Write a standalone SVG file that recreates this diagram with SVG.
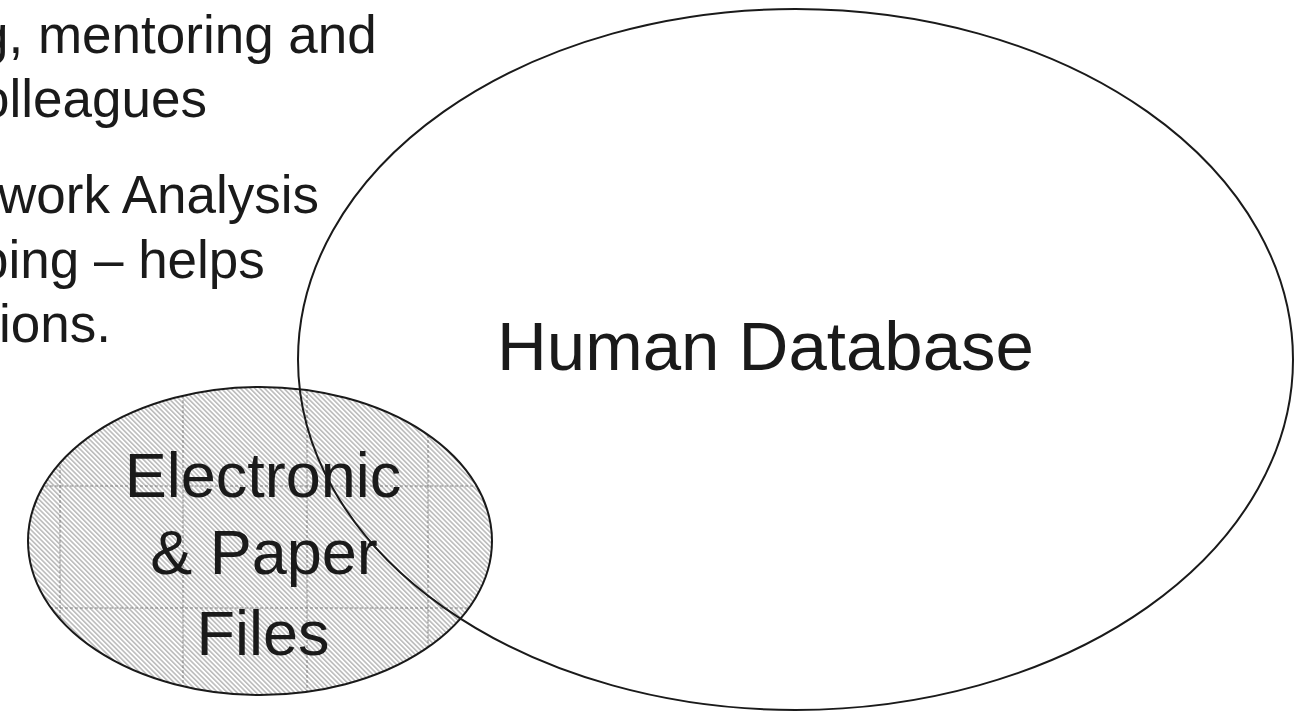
<svg xmlns="http://www.w3.org/2000/svg" width="1297" height="711" viewBox="0 0 1297 711">
<style>
.t{font-family:"Liberation Sans",Arial,sans-serif;fill:#1a1a1a}
.side{font-size:53px}
.lbl{font-size:63px;text-anchor:middle}
.big{font-size:69px}
.edge{fill:none;stroke:#1a1a1a;stroke-width:2}
.grid{stroke:#6e6e6e;stroke-width:0.8;stroke-dasharray:3 2;fill:none}
</style>
<defs>
<pattern id="hatch" patternUnits="userSpaceOnUse" width="3.4" height="10" patternTransform="rotate(-45)">
<rect width="3.4" height="10" fill="#ffffff"/>
<rect width="1.6" height="10" fill="#bcbcbc"/>
</pattern>
<clipPath id="smallClip"><ellipse cx="260" cy="541" rx="232" ry="154"/></clipPath>
</defs>
<rect width="1297" height="711" fill="#ffffff"/>
<g id="files">
<ellipse cx="260" cy="541" rx="232" ry="154" fill="url(#hatch)"/>
<g clip-path="url(#smallClip)" class="grid">
<line x1="60" y1="380" x2="60" y2="700"/>
<line x1="183" y1="380" x2="183" y2="700"/>
<line x1="307" y1="380" x2="307" y2="700"/>
<line x1="428" y1="380" x2="428" y2="700"/>
<line x1="20" y1="486" x2="500" y2="486"/>
<line x1="20" y1="608" x2="500" y2="608"/>
</g>
<ellipse class="edge" cx="260" cy="541" rx="232" ry="154"/>
<text class="t lbl" x="263" y="497">Electronic</text>
<text class="t lbl" x="264" y="574">&amp; Paper</text>
<text class="t lbl" x="263" y="655">Files</text>
</g>
<g id="human">
<ellipse class="edge" cx="795.5" cy="359.5" rx="497.5" ry="350.5"/>
<text class="t big" x="497" y="370">Human Database</text>
</g>
<g id="notes">
<text class="t side" x="-21" y="53">g, mentoring and</text>
<text class="t side" x="-20" y="117">olleagues</text>
<text class="t side" x="-2" y="213">work Analysis</text>
<text class="t side" x="-21" y="278">ping – helps</text>
<text class="t side" x="-1" y="342">ions.</text>
</g>
<g id="connectors"></g>
</svg>
